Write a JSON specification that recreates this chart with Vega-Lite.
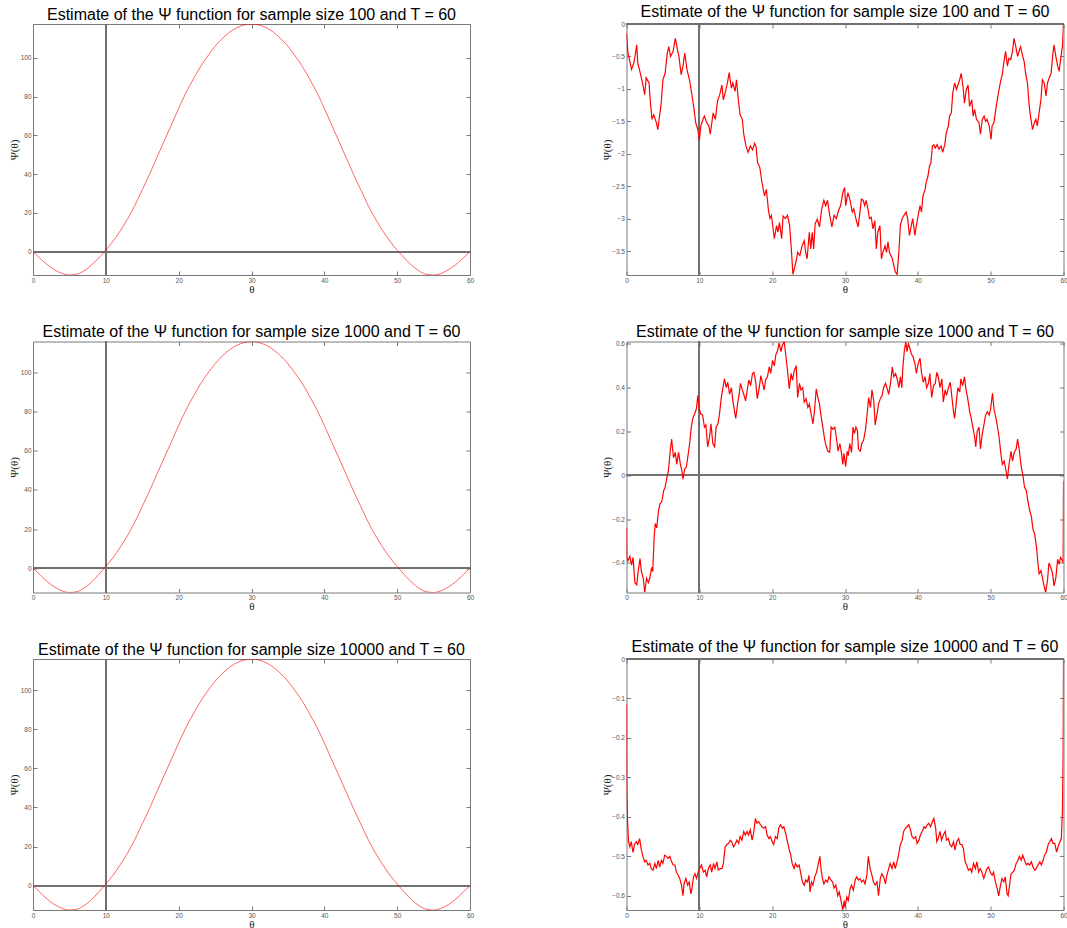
{
"$schema": "https://vega.github.io/schema/vega-lite/v6.json",
"padding": {"left": 7, "top": 3, "right": 0, "bottom": 0},
"background": "white",
"bounds": "flush",
"columns": 2,
"spacing": {"row": 66.5, "column": 156.5},
"config": {
 "view": {"stroke": "#7a7a7a", "strokeWidth": 1},
 "axis": {"grid": false, "domain": false, "tickColor": "#7a7a7a", "tickSize": -4, "labelFont": "Liberation Sans", "labelFontSize": 6.5, "labelColor": "#555555", "labelPadding": 6, "labelFlush": false, "labelOverlap": false, "labelBound": false, "titleFont": "Liberation Serif", "titleFontSize": 11, "titleFontWeight": "normal", "titleColor": "#222222", "labelExpr": "format(datum.value, '')"},
 "title": {"font": "Liberation Sans", "fontSize": 16, "fontWeight": "normal", "color": "#000000", "baseline": "alphabetic", "offset": 1, "frame": "group"}
},
"datasets": {
"l1": [
{"t":0,"v":0},{"t":1,"v":-3.5},{"t":2,"v":-6.8},{"t":3,"v":-9.4},{"t":4,"v":-11.2},{"t":5,"v":-12},{"t":6,"v":-11.6},{"t":7,"v":-9.9},{"t":8,"v":-7},{"t":9,"v":-3.3},{"t":10,"v":0.8},{"t":11,"v":5.5},{"t":12,"v":10.9},{"t":13,"v":17},{"t":14,"v":24},{"t":15,"v":32},{"t":16,"v":40},{"t":17,"v":48.5},{"t":18,"v":57},{"t":19,"v":65.5},{"t":20,"v":74},{"t":21,"v":82},{"t":22,"v":89},{"t":23,"v":95.5},{"t":24,"v":101},{"t":25,"v":106},{"t":26,"v":110},{"t":27,"v":113.3},{"t":28,"v":115.6},{"t":29,"v":117},{"t":30,"v":117.5},
{"t":31,"v":117},{"t":32,"v":115.6},{"t":33,"v":113.3},{"t":34,"v":110},{"t":35,"v":106},{"t":36,"v":101},{"t":37,"v":95.5},{"t":38,"v":89},{"t":39,"v":82},{"t":40,"v":74},{"t":41,"v":65.5},{"t":42,"v":57},{"t":43,"v":48.5},{"t":44,"v":40},{"t":45,"v":32},{"t":46,"v":24},{"t":47,"v":17},{"t":48,"v":10.9},{"t":49,"v":5.5},{"t":50,"v":0.8},{"t":51,"v":-3.3},{"t":52,"v":-7},{"t":53,"v":-9.9},{"t":54,"v":-11.6},{"t":55,"v":-12},{"t":56,"v":-11.2},{"t":57,"v":-9.4},{"t":58,"v":-6.8},{"t":59,"v":-3.5},{"t":60,"v":0}
],
"l2": [
{"t":0,"v":0},{"t":1,"v":-3.6},{"t":2,"v":-7.1},{"t":3,"v":-9.8},{"t":4,"v":-11.7},{"t":5,"v":-12.5},{"t":6,"v":-12.1},{"t":7,"v":-10.3},{"t":8,"v":-7.3},{"t":9,"v":-3.4},{"t":10,"v":0.8},{"t":11,"v":5.4},{"t":12,"v":10.8},{"t":13,"v":16.8},{"t":14,"v":23.7},{"t":15,"v":31.6},{"t":16,"v":39.5},{"t":17,"v":47.9},{"t":18,"v":56.3},{"t":19,"v":64.6},{"t":20,"v":73},{"t":21,"v":80.9},{"t":22,"v":87.8},{"t":23,"v":94.3},{"t":24,"v":99.7},{"t":25,"v":104.6},{"t":26,"v":108.6},{"t":27,"v":111.8},{"t":28,"v":114.1},{"t":29,"v":115.5},{"t":30,"v":116},
{"t":31,"v":115.5},{"t":32,"v":114.1},{"t":33,"v":111.8},{"t":34,"v":108.6},{"t":35,"v":104.6},{"t":36,"v":99.7},{"t":37,"v":94.3},{"t":38,"v":87.8},{"t":39,"v":80.9},{"t":40,"v":73},{"t":41,"v":64.6},{"t":42,"v":56.3},{"t":43,"v":47.9},{"t":44,"v":39.5},{"t":45,"v":31.6},{"t":46,"v":23.7},{"t":47,"v":16.8},{"t":48,"v":10.8},{"t":49,"v":5.4},{"t":50,"v":0.8},{"t":51,"v":-3.4},{"t":52,"v":-7.3},{"t":53,"v":-10.3},{"t":54,"v":-12.1},{"t":55,"v":-12.5},{"t":56,"v":-11.7},{"t":57,"v":-9.8},{"t":58,"v":-7.1},{"t":59,"v":-3.6},{"t":60,"v":0}
],
"r1": [
{"t":0,"v":-0.14},{"t":0.2,"v":-0.45},{"t":0.4,"v":-0.55},{"t":0.7,"v":-0.7},{"t":1.0,"v":-0.6},{"t":1.2,"v":-0.48},{"t":1.4,"v":-0.32},{"t":1.55,"v":-0.6},{"t":1.9,"v":-0.76},{"t":2.15,"v":-0.88},{"t":2.5,"v":-1.09},{"t":2.7,"v":-0.83},{"t":3.1,"v":-0.91},{"t":3.25,"v":-1.17},{"t":3.5,"v":-1.47},{"t":3.75,"v":-1.4},{"t":4.1,"v":-1.52},{"t":4.3,"v":-1.63},{"t":4.5,"v":-1.45},{"t":4.75,"v":-1.24},{"t":5.0,"v":-0.86},{"t":5.3,"v":-0.76},{"t":5.6,"v":-0.45},{"t":5.8,"v":-0.35},{"t":6.05,"v":-0.5},{"t":6.4,"v":-0.42},{"t":6.7,"v":-0.22},{"t":7.0,"v":-0.4},{"t":7.2,"v":-0.5},{"t":7.5,"v":-0.78},{"t":7.75,"v":-0.65},{"t":8.0,"v":-0.45},{"t":8.3,"v":-0.7},{"t":8.65,"v":-0.86},{"t":9.0,"v":-1.11},{"t":9.25,"v":-1.29},{"t":9.5,"v":-1.52},{"t":9.8,"v":-1.63},{"t":10.0,"v":-1.8},{"t":10.2,"v":-1.57},{"t":10.5,"v":-1.47},{"t":10.7,"v":-1.42},{"t":11.0,"v":-1.52},{"t":11.3,"v":-1.57},{"t":11.5,"v":-1.7},{"t":11.9,"v":-1.37},{"t":12.2,"v":-1.47},{"t":12.5,"v":-1.19},{"t":12.8,"v":-1.09},{"t":13.1,"v":-0.94},{"t":13.3,"v":-1.17},{"t":13.6,"v":-1.04},{"t":13.9,"v":-0.88},{"t":14.1,"v":-0.75},{"t":14.4,"v":-0.99},{"t":14.6,"v":-0.91},{"t":14.9,"v":-1.04},{"t":15.1,"v":-0.86},{"t":15.4,"v":-1.22},{"t":15.6,"v":-1.4},{"t":15.9,"v":-1.47},{"t":16.1,"v":-1.7},{"t":16.4,"v":-1.88},{"t":16.7,"v":-1.98},{"t":17.0,"v":-1.88},{"t":17.3,"v":-1.94},{"t":17.6,"v":-1.84},{"t":17.8,"v":-1.9},{"t":18.0,"v":-2.14},{"t":18.3,"v":-2.21},{"t":18.6,"v":-2.44},{"t":18.95,"v":-2.65},{"t":19.2,"v":-2.55},{"t":19.5,"v":-2.88},{"t":19.7,"v":-3.0},{"t":19.9,"v":-2.95},{"t":20.1,"v":-3.13},{"t":20.3,"v":-3.31},{"t":20.6,"v":-3.11},{"t":20.8,"v":-3.21},{"t":21.0,"v":-3.06},{"t":21.3,"v":-3.31},{"t":21.5,"v":-2.96},{"t":21.8,"v":-3.0},{"t":22.1,"v":-2.95},{"t":22.4,"v":-3.11},{"t":22.6,"v":-3.42},{"t":22.85,"v":-3.86},{"t":23.1,"v":-3.75},{"t":23.3,"v":-3.65},{"t":23.5,"v":-3.52},{"t":23.8,"v":-3.57},{"t":24.1,"v":-3.42},{"t":24.4,"v":-3.34},{"t":24.6,"v":-3.52},{"t":24.8,"v":-3.62},{"t":25.1,"v":-3.21},{"t":25.3,"v":-3.47},{"t":25.5,"v":-3.21},{"t":25.7,"v":-3.47},{"t":25.9,"v":-3.08},{"t":26.2,"v":-3.01},{"t":26.5,"v":-3.13},{"t":26.8,"v":-2.85},{"t":27.1,"v":-2.72},{"t":27.35,"v":-2.8},{"t":27.6,"v":-2.72},{"t":27.9,"v":-2.95},{"t":28.2,"v":-3.13},{"t":28.5,"v":-2.95},{"t":28.8,"v":-3.0},{"t":29.1,"v":-2.88},{"t":29.4,"v":-2.8},{"t":29.7,"v":-2.6},{"t":29.95,"v":-2.52},
{"t":30.1,"v":-2.8},{"t":30.4,"v":-2.6},{"t":30.7,"v":-2.72},{"t":31.0,"v":-2.9},{"t":31.2,"v":-2.85},{"t":31.5,"v":-3.0},{"t":31.8,"v":-3.13},{"t":32.0,"v":-2.95},{"t":32.25,"v":-2.7},{"t":32.5,"v":-2.72},{"t":32.7,"v":-2.8},{"t":32.9,"v":-2.72},{"t":33.2,"v":-2.88},{"t":33.35,"v":-3.0},{"t":33.6,"v":-2.98},{"t":33.85,"v":-3.16},{"t":34.1,"v":-3.03},{"t":34.3,"v":-3.47},{"t":34.5,"v":-3.21},{"t":34.8,"v":-3.11},{"t":35.0,"v":-3.62},{"t":35.2,"v":-3.52},{"t":35.5,"v":-3.42},{"t":35.7,"v":-3.52},{"t":35.9,"v":-3.36},{"t":36.1,"v":-3.52},{"t":36.5,"v":-3.62},{"t":36.7,"v":-3.72},{"t":36.9,"v":-3.82},{"t":37.15,"v":-3.86},{"t":37.4,"v":-3.52},{"t":37.6,"v":-3.11},{"t":37.85,"v":-3.0},{"t":38.1,"v":-2.95},{"t":38.4,"v":-2.9},{"t":38.6,"v":-3.0},{"t":38.85,"v":-3.26},{"t":39.1,"v":-3.11},{"t":39.3,"v":-3.0},{"t":39.6,"v":-3.26},{"t":39.8,"v":-3.11},{"t":40.05,"v":-2.95},{"t":40.3,"v":-2.8},{"t":40.5,"v":-2.9},{"t":40.7,"v":-2.65},{"t":41.0,"v":-2.55},{"t":41.15,"v":-2.44},{"t":41.4,"v":-2.34},{"t":41.6,"v":-2.19},{"t":41.8,"v":-2.14},{"t":42.0,"v":-1.88},{"t":42.2,"v":-1.86},{"t":42.4,"v":-1.91},{"t":42.65,"v":-1.86},{"t":42.9,"v":-1.93},{"t":43.2,"v":-1.88},{"t":43.4,"v":-1.98},{"t":43.7,"v":-1.86},{"t":43.9,"v":-1.68},{"t":44.2,"v":-1.57},{"t":44.35,"v":-1.42},{"t":44.6,"v":-1.37},{"t":44.8,"v":-1.06},{"t":45.05,"v":-0.91},{"t":45.3,"v":-1.01},{"t":45.5,"v":-0.94},{"t":45.7,"v":-0.88},{"t":45.95,"v":-0.76},{"t":46.2,"v":-0.96},{"t":46.4,"v":-1.22},{"t":46.65,"v":-1.01},{"t":46.9,"v":-0.94},{"t":47.1,"v":-1.27},{"t":47.4,"v":-1.17},{"t":47.6,"v":-1.42},{"t":47.8,"v":-1.32},{"t":48.05,"v":-1.47},{"t":48.4,"v":-1.52},{"t":48.6,"v":-1.7},{"t":48.85,"v":-1.47},{"t":49.1,"v":-1.42},{"t":49.3,"v":-1.5},{"t":49.5,"v":-1.47},{"t":49.8,"v":-1.57},{"t":50.05,"v":-1.78},{"t":50.2,"v":-1.57},{"t":50.45,"v":-1.52},{"t":50.7,"v":-1.32},{"t":50.9,"v":-1.17},{"t":51.15,"v":-1.01},{"t":51.4,"v":-0.86},{"t":51.6,"v":-0.78},{"t":51.8,"v":-0.6},{"t":52.05,"v":-0.42},{"t":52.3,"v":-0.65},{"t":52.5,"v":-0.53},{"t":52.75,"v":-0.55},{"t":53.0,"v":-0.42},{"t":53.2,"v":-0.22},{"t":53.45,"v":-0.35},{"t":53.7,"v":-0.5},{"t":53.9,"v":-0.42},{"t":54.1,"v":-0.35},{"t":54.4,"v":-0.5},{"t":54.6,"v":-0.58},{"t":54.8,"v":-0.76},{"t":55.05,"v":-0.91},{"t":55.3,"v":-1.27},{"t":55.5,"v":-1.45},{"t":55.75,"v":-1.63},{"t":56.0,"v":-1.52},{"t":56.2,"v":-1.47},{"t":56.4,"v":-1.57},{"t":56.65,"v":-1.37},{"t":56.9,"v":-1.17},{"t":57.1,"v":-0.86},{"t":57.35,"v":-0.91},{"t":57.6,"v":-1.11},{"t":57.8,"v":-0.91},{"t":58.05,"v":-0.83},{"t":58.3,"v":-0.76},{"t":58.5,"v":-0.5},{"t":58.7,"v":-0.32},{"t":58.95,"v":-0.5},{"t":59.2,"v":-0.65},{"t":59.4,"v":-0.73},{"t":59.6,"v":-0.55},{"t":59.85,"v":-0.35},{"t":60,"v":0}
],
"r2": [
{"t":0,"v":-0.24},{"t":0.05,"v":-0.375},{"t":0.2,"v":-0.39},{"t":0.46,"v":-0.37},{"t":0.7,"v":-0.41},{"t":0.9,"v":-0.375},{"t":1.15,"v":-0.49},{"t":1.4,"v":-0.5},{"t":1.6,"v":-0.44},{"t":1.85,"v":-0.38},{"t":2.05,"v":-0.44},{"t":2.3,"v":-0.47},{"t":2.5,"v":-0.535},{"t":2.75,"v":-0.47},{"t":3.0,"v":-0.49},{"t":3.2,"v":-0.47},{"t":3.45,"v":-0.42},{"t":3.6,"v":-0.44},{"t":3.8,"v":-0.28},{"t":3.95,"v":-0.22},{"t":4.15,"v":-0.24},{"t":4.4,"v":-0.16},{"t":4.6,"v":-0.13},{"t":4.85,"v":-0.12},{"t":5.1,"v":-0.07},{"t":5.3,"v":-0.055},{"t":5.55,"v":-0.01},{"t":5.75,"v":0.02},{"t":6.0,"v":0.11},{"t":6.2,"v":0.165},{"t":6.45,"v":0.08},{"t":6.7,"v":0.105},{"t":6.9,"v":0.05},{"t":7.15,"v":0.105},{"t":7.4,"v":0.05},{"t":7.6,"v":0.02},{"t":7.75,"v":-0.017},{"t":8.0,"v":0.03},{"t":8.2,"v":0.037},{"t":8.4,"v":0.08},{"t":8.65,"v":0.14},{"t":8.9,"v":0.22},{"t":9.1,"v":0.26},{"t":9.35,"v":0.28},{"t":9.6,"v":0.305},{"t":9.8,"v":0.365},{"t":9.95,"v":0.31},{"t":10.2,"v":0.28},{"t":10.45,"v":0.275},{"t":10.7,"v":0.22},{"t":10.9,"v":0.23},{"t":11.15,"v":0.13},{"t":11.4,"v":0.175},{"t":11.6,"v":0.235},{"t":11.85,"v":0.145},{"t":12.1,"v":0.13},{"t":12.3,"v":0.22},{"t":12.55,"v":0.235},{"t":12.75,"v":0.275},{"t":13.0,"v":0.35},{"t":13.2,"v":0.39},{"t":13.45,"v":0.44},{"t":13.7,"v":0.4},{"t":13.9,"v":0.425},{"t":14.15,"v":0.37},{"t":14.4,"v":0.4},{"t":14.6,"v":0.34},{"t":14.85,"v":0.29},{"t":15.0,"v":0.26},{"t":15.25,"v":0.325},{"t":15.5,"v":0.38},{"t":15.65,"v":0.42},{"t":15.9,"v":0.39},{"t":16.1,"v":0.37},{"t":16.35,"v":0.34},{"t":16.6,"v":0.395},{"t":16.8,"v":0.435},{"t":17.05,"v":0.41},{"t":17.3,"v":0.465},{"t":17.5,"v":0.47},{"t":17.75,"v":0.425},{"t":17.95,"v":0.35},{"t":18.2,"v":0.395},{"t":18.45,"v":0.455},{"t":18.65,"v":0.425},{"t":18.9,"v":0.39},{"t":19.1,"v":0.435},{"t":19.35,"v":0.45},{"t":19.6,"v":0.495},{"t":19.8,"v":0.465},{"t":20.05,"v":0.525},{"t":20.3,"v":0.5},{"t":20.5,"v":0.55},{"t":20.75,"v":0.57},{"t":20.95,"v":0.605},{"t":21.2,"v":0.565},{"t":21.4,"v":0.595},{"t":21.65,"v":0.61},{"t":21.9,"v":0.54},{"t":22.1,"v":0.48},{"t":22.35,"v":0.395},{"t":22.6,"v":0.465},{"t":22.8,"v":0.435},{"t":23.05,"v":0.48},{"t":23.3,"v":0.5},{"t":23.5,"v":0.355},{"t":23.75,"v":0.42},{"t":23.95,"v":0.39},{"t":24.2,"v":0.4},{"t":24.4,"v":0.335},{"t":24.65,"v":0.35},{"t":24.9,"v":0.31},{"t":25.1,"v":0.325},{"t":25.35,"v":0.28},{"t":25.6,"v":0.235},{"t":25.8,"v":0.29},{"t":26.05,"v":0.395},{"t":26.3,"v":0.35},{"t":26.5,"v":0.325},{"t":26.7,"v":0.275},{"t":26.95,"v":0.22},{"t":27.2,"v":0.165},{"t":27.4,"v":0.135},{"t":27.65,"v":0.11},{"t":27.9,"v":0.105},{"t":28.1,"v":0.22},{"t":28.35,"v":0.21},{"t":28.6,"v":0.22},{"t":28.8,"v":0.175},{"t":29.05,"v":0.11},{"t":29.3,"v":0.145},{"t":29.5,"v":0.105},{"t":29.7,"v":0.05},{"t":29.85,"v":0.1},{"t":30.1,"v":0.04},
{"t":30.3,"v":0.11},{"t":30.45,"v":0.09},{"t":30.65,"v":0.145},{"t":30.9,"v":0.105},{"t":31.1,"v":0.22},{"t":31.3,"v":0.19},{"t":31.5,"v":0.22},{"t":31.7,"v":0.205},{"t":31.85,"v":0.12},{"t":32.1,"v":0.11},{"t":32.3,"v":0.145},{"t":32.55,"v":0.16},{"t":32.8,"v":0.205},{"t":33.0,"v":0.265},{"t":33.25,"v":0.355},{"t":33.5,"v":0.31},{"t":33.7,"v":0.39},{"t":33.95,"v":0.34},{"t":34.15,"v":0.23},{"t":34.4,"v":0.28},{"t":34.6,"v":0.325},{"t":34.85,"v":0.35},{"t":35.1,"v":0.365},{"t":35.3,"v":0.4},{"t":35.55,"v":0.42},{"t":35.8,"v":0.395},{"t":36.0,"v":0.37},{"t":36.25,"v":0.42},{"t":36.5,"v":0.495},{"t":36.7,"v":0.45},{"t":36.95,"v":0.465},{"t":37.2,"v":0.435},{"t":37.4,"v":0.4},{"t":37.6,"v":0.45},{"t":37.8,"v":0.4},{"t":37.95,"v":0.495},{"t":38.15,"v":0.57},{"t":38.35,"v":0.61},{"t":38.5,"v":0.565},{"t":38.7,"v":0.6},{"t":38.9,"v":0.58},{"t":39.1,"v":0.555},{"t":39.35,"v":0.54},{"t":39.6,"v":0.51},{"t":39.8,"v":0.465},{"t":40.05,"v":0.51},{"t":40.3,"v":0.535},{"t":40.5,"v":0.47},{"t":40.75,"v":0.425},{"t":41.0,"v":0.45},{"t":41.2,"v":0.4},{"t":41.45,"v":0.42},{"t":41.65,"v":0.465},{"t":41.9,"v":0.355},{"t":42.15,"v":0.41},{"t":42.4,"v":0.42},{"t":42.6,"v":0.47},{"t":42.8,"v":0.45},{"t":43.05,"v":0.4},{"t":43.3,"v":0.44},{"t":43.5,"v":0.335},{"t":43.75,"v":0.39},{"t":43.95,"v":0.365},{"t":44.2,"v":0.4},{"t":44.45,"v":0.425},{"t":44.65,"v":0.365},{"t":44.9,"v":0.29},{"t":45.05,"v":0.26},{"t":45.3,"v":0.34},{"t":45.5,"v":0.4},{"t":45.75,"v":0.38},{"t":45.9,"v":0.44},{"t":46.15,"v":0.41},{"t":46.4,"v":0.45},{"t":46.6,"v":0.395},{"t":46.85,"v":0.35},{"t":47.1,"v":0.295},{"t":47.3,"v":0.265},{"t":47.55,"v":0.22},{"t":47.8,"v":0.175},{"t":47.95,"v":0.13},{"t":48.15,"v":0.2},{"t":48.4,"v":0.22},{"t":48.6,"v":0.12},{"t":48.85,"v":0.19},{"t":49.1,"v":0.235},{"t":49.3,"v":0.275},{"t":49.55,"v":0.29},{"t":49.8,"v":0.275},{"t":50.0,"v":0.305},{"t":50.25,"v":0.375},{"t":50.45,"v":0.305},{"t":50.7,"v":0.265},{"t":50.9,"v":0.23},{"t":51.15,"v":0.175},{"t":51.4,"v":0.1},{"t":51.6,"v":0.05},{"t":51.85,"v":0.065},{"t":52.05,"v":0.03},{"t":52.3,"v":-0.017},{"t":52.5,"v":0.045},{"t":52.8,"v":0.11},{"t":53.0,"v":0.065},{"t":53.25,"v":0.105},{"t":53.5,"v":0.12},{"t":53.7,"v":0.165},{"t":53.95,"v":0.11},{"t":54.2,"v":0.037},{"t":54.4,"v":0.006},{"t":54.65,"v":-0.055},{"t":54.9,"v":-0.07},{"t":55.1,"v":-0.116},{"t":55.35,"v":-0.16},{"t":55.6,"v":-0.19},{"t":55.8,"v":-0.245},{"t":56.05,"v":-0.27},{"t":56.3,"v":-0.33},{"t":56.5,"v":-0.405},{"t":56.65,"v":-0.45},{"t":56.9,"v":-0.435},{"t":57.1,"v":-0.467},{"t":57.3,"v":-0.5},{"t":57.55,"v":-0.535},{"t":57.8,"v":-0.48},{"t":58.0,"v":-0.4},{"t":58.25,"v":-0.42},{"t":58.5,"v":-0.45},{"t":58.7,"v":-0.505},{"t":58.95,"v":-0.467},{"t":59.2,"v":-0.383},{"t":59.4,"v":-0.406},{"t":59.6,"v":-0.375},{"t":59.85,"v":-0.39},{"t":59.95,"v":-0.4},{"t":60,"v":-0.025}
],
"r3": [
{"t":0,"v":-0.115},{"t":0.05,"v":-0.33},{"t":0.14,"v":-0.41},{"t":0.28,"v":-0.463},{"t":0.46,"v":-0.476},{"t":0.65,"v":-0.463},{"t":0.9,"v":-0.49},{"t":1.1,"v":-0.47},{"t":1.35,"v":-0.463},{"t":1.55,"v":-0.47},{"t":1.8,"v":-0.455},{"t":2.0,"v":-0.48},{"t":2.25,"v":-0.5},{"t":2.5,"v":-0.514},{"t":2.7,"v":-0.51},{"t":2.95,"v":-0.522},{"t":3.2,"v":-0.518},{"t":3.4,"v":-0.531},{"t":3.65,"v":-0.535},{"t":3.9,"v":-0.518},{"t":4.1,"v":-0.531},{"t":4.35,"v":-0.51},{"t":4.55,"v":-0.527},{"t":4.8,"v":-0.51},{"t":5.0,"v":-0.518},{"t":5.25,"v":-0.497},{"t":5.5,"v":-0.5},{"t":5.7,"v":-0.505},{"t":5.95,"v":-0.5},{"t":6.2,"v":-0.514},{"t":6.4,"v":-0.522},{"t":6.65,"v":-0.522},{"t":6.85,"v":-0.54},{"t":7.1,"v":-0.548},{"t":7.3,"v":-0.556},{"t":7.55,"v":-0.573},{"t":7.75,"v":-0.6},{"t":7.9,"v":-0.57},{"t":8.15,"v":-0.556},{"t":8.4,"v":-0.573},{"t":8.6,"v":-0.565},{"t":8.85,"v":-0.595},{"t":9.0,"v":-0.58},{"t":9.2,"v":-0.552},{"t":9.4,"v":-0.544},{"t":9.6,"v":-0.556},{"t":9.85,"v":-0.54},{"t":10.05,"v":-0.531},{"t":10.3,"v":-0.522},{"t":10.55,"v":-0.54},{"t":10.8,"v":-0.535},{"t":11.0,"v":-0.552},{"t":11.25,"v":-0.531},{"t":11.5,"v":-0.522},{"t":11.7,"v":-0.54},{"t":11.95,"v":-0.518},{"t":12.15,"v":-0.531},{"t":12.4,"v":-0.514},{"t":12.6,"v":-0.535},{"t":12.85,"v":-0.531},{"t":13.1,"v":-0.531},{"t":13.3,"v":-0.518},{"t":13.55,"v":-0.476},{"t":13.8,"v":-0.47},{"t":14.0,"v":-0.467},{"t":14.25,"v":-0.459},{"t":14.45,"v":-0.463},{"t":14.7,"v":-0.476},{"t":14.9,"v":-0.47},{"t":15.15,"v":-0.459},{"t":15.4,"v":-0.467},{"t":15.6,"v":-0.45},{"t":15.85,"v":-0.459},{"t":16.1,"v":-0.437},{"t":16.3,"v":-0.446},{"t":16.55,"v":-0.437},{"t":16.75,"v":-0.446},{"t":17.0,"v":-0.433},{"t":17.25,"v":-0.459},{"t":17.45,"v":-0.442},{"t":17.7,"v":-0.404},{"t":17.9,"v":-0.416},{"t":18.15,"v":-0.412},{"t":18.4,"v":-0.42},{"t":18.6,"v":-0.425},{"t":18.85,"v":-0.429},{"t":19.1,"v":-0.425},{"t":19.3,"v":-0.446},{"t":19.55,"v":-0.455},{"t":19.75,"v":-0.45},{"t":20.0,"v":-0.463},{"t":20.2,"v":-0.47},{"t":20.45,"v":-0.45},{"t":20.7,"v":-0.455},{"t":20.9,"v":-0.429},{"t":21.15,"v":-0.42},{"t":21.4,"v":-0.429},{"t":21.6,"v":-0.425},{"t":21.85,"v":-0.442},{"t":22.05,"v":-0.459},{"t":22.3,"v":-0.48},{"t":22.55,"v":-0.497},{"t":22.75,"v":-0.518},{"t":23.0,"v":-0.531},{"t":23.2,"v":-0.518},{"t":23.45,"v":-0.527},{"t":23.7,"v":-0.522},{"t":23.9,"v":-0.54},{"t":24.15,"v":-0.565},{"t":24.4,"v":-0.573},{"t":24.6,"v":-0.56},{"t":24.85,"v":-0.565},{"t":25.05,"v":-0.548},{"t":25.2,"v":-0.59},{"t":25.4,"v":-0.565},{"t":25.6,"v":-0.573},{"t":25.85,"v":-0.552},{"t":26.1,"v":-0.54},{"t":26.3,"v":-0.522},{"t":26.55,"v":-0.5},{"t":26.7,"v":-0.531},{"t":26.9,"v":-0.556},{"t":27.1,"v":-0.57},{"t":27.35,"v":-0.56},{"t":27.6,"v":-0.565},{"t":27.8,"v":-0.552},{"t":28.05,"v":-0.56},{"t":28.3,"v":-0.565},{"t":28.5,"v":-0.58},{"t":28.75,"v":-0.573},{"t":29.0,"v":-0.6},{"t":29.2,"v":-0.59},{"t":29.45,"v":-0.612},{"t":29.7,"v":-0.636},{"t":29.9,"v":-0.612},{"t":30.0,"v":-0.63},
{"t":30.25,"v":-0.603},{"t":30.45,"v":-0.612},{"t":30.7,"v":-0.582},{"t":30.9,"v":-0.573},{"t":31.15,"v":-0.586},{"t":31.4,"v":-0.56},{"t":31.6,"v":-0.552},{"t":31.85,"v":-0.56},{"t":32.05,"v":-0.556},{"t":32.3,"v":-0.565},{"t":32.55,"v":-0.56},{"t":32.75,"v":-0.57},{"t":33.0,"v":-0.548},{"t":33.2,"v":-0.5},{"t":33.45,"v":-0.531},{"t":33.7,"v":-0.548},{"t":33.9,"v":-0.565},{"t":34.15,"v":-0.573},{"t":34.4,"v":-0.565},{"t":34.6,"v":-0.6},{"t":34.85,"v":-0.556},{"t":35.05,"v":-0.544},{"t":35.3,"v":-0.552},{"t":35.55,"v":-0.57},{"t":35.75,"v":-0.548},{"t":36.0,"v":-0.531},{"t":36.2,"v":-0.518},{"t":36.45,"v":-0.531},{"t":36.7,"v":-0.514},{"t":36.9,"v":-0.531},{"t":37.15,"v":-0.514},{"t":37.35,"v":-0.497},{"t":37.6,"v":-0.47},{"t":37.85,"v":-0.459},{"t":38.05,"v":-0.437},{"t":38.3,"v":-0.429},{"t":38.5,"v":-0.425},{"t":38.75,"v":-0.42},{"t":39.0,"v":-0.433},{"t":39.2,"v":-0.45},{"t":39.45,"v":-0.455},{"t":39.7,"v":-0.45},{"t":39.9,"v":-0.467},{"t":40.15,"v":-0.459},{"t":40.35,"v":-0.446},{"t":40.6,"v":-0.437},{"t":40.85,"v":-0.425},{"t":41.05,"v":-0.429},{"t":41.3,"v":-0.42},{"t":41.5,"v":-0.416},{"t":41.75,"v":-0.425},{"t":42.0,"v":-0.412},{"t":42.2,"v":-0.404},{"t":42.45,"v":-0.429},{"t":42.6,"v":-0.463},{"t":42.8,"v":-0.455},{"t":43.05,"v":-0.437},{"t":43.25,"v":-0.459},{"t":43.5,"v":-0.446},{"t":43.75,"v":-0.437},{"t":43.95,"v":-0.459},{"t":44.2,"v":-0.455},{"t":44.4,"v":-0.47},{"t":44.65,"v":-0.476},{"t":44.9,"v":-0.463},{"t":45.1,"v":-0.484},{"t":45.35,"v":-0.463},{"t":45.6,"v":-0.455},{"t":45.8,"v":-0.47},{"t":46.05,"v":-0.47},{"t":46.25,"v":-0.48},{"t":46.5,"v":-0.514},{"t":46.7,"v":-0.522},{"t":46.95,"v":-0.535},{"t":47.2,"v":-0.531},{"t":47.4,"v":-0.54},{"t":47.65,"v":-0.518},{"t":47.9,"v":-0.531},{"t":48.1,"v":-0.514},{"t":48.35,"v":-0.54},{"t":48.55,"v":-0.531},{"t":48.8,"v":-0.54},{"t":49.05,"v":-0.556},{"t":49.25,"v":-0.544},{"t":49.5,"v":-0.531},{"t":49.7,"v":-0.527},{"t":49.95,"v":-0.54},{"t":50.2,"v":-0.548},{"t":50.4,"v":-0.54},{"t":50.65,"v":-0.565},{"t":50.9,"v":-0.582},{"t":51.1,"v":-0.6},{"t":51.35,"v":-0.573},{"t":51.55,"v":-0.556},{"t":51.8,"v":-0.565},{"t":52.0,"v":-0.552},{"t":52.25,"v":-0.595},{"t":52.4,"v":-0.6},{"t":52.6,"v":-0.573},{"t":52.8,"v":-0.544},{"t":53.05,"v":-0.54},{"t":53.25,"v":-0.535},{"t":53.5,"v":-0.518},{"t":53.75,"v":-0.51},{"t":53.95,"v":-0.5},{"t":54.2,"v":-0.51},{"t":54.4,"v":-0.497},{"t":54.65,"v":-0.51},{"t":54.9,"v":-0.522},{"t":55.1,"v":-0.518},{"t":55.35,"v":-0.522},{"t":55.6,"v":-0.514},{"t":55.8,"v":-0.527},{"t":56.05,"v":-0.535},{"t":56.25,"v":-0.531},{"t":56.5,"v":-0.522},{"t":56.75,"v":-0.514},{"t":56.95,"v":-0.522},{"t":57.2,"v":-0.51},{"t":57.4,"v":-0.497},{"t":57.65,"v":-0.489},{"t":57.9,"v":-0.47},{"t":58.1,"v":-0.463},{"t":58.35,"v":-0.455},{"t":58.55,"v":-0.467},{"t":58.8,"v":-0.467},{"t":59.05,"v":-0.489},{"t":59.25,"v":-0.476},{"t":59.5,"v":-0.463},{"t":59.7,"v":-0.455},{"t":59.85,"v":-0.387},{"t":59.95,"v":-0.242},{"t":60,"v":-0.004}
]
},
"concat": [
{
 "width": 437, "height": 251,
 "title": "Estimate of the Ψ function for sample size 100 and T = 60",
 "data": {"name": "l1"},
 "layer": [
  {"mark": {"type": "rule", "color": "#707070", "strokeWidth": 1}, "encoding": {"x": {"datum": 10, "type": "quantitative", "axis": null}}},
  {"mark": {"type": "rule", "color": "#707070", "strokeWidth": 1}, "encoding": {"y": {"datum": 0, "type": "quantitative", "axis": null}}},
  {"mark": {"type": "line", "color": "#ff0000", "strokeWidth": 1, "opacity": 0.6, "clip": true, "interpolate": "monotone"},
   "encoding": {
    "x": {"field": "t", "type": "quantitative", "scale": {"domain": [0, 60], "nice": false, "zero": false}, "axis": {"values": [0,10,20,30,40,50,60], "title": "θ", "titleY": 8}},
    "y": {"field": "v", "type": "quantitative", "scale": {"domain": [-12, 117.5], "nice": false, "zero": false}, "axis": {"values": [0,20,40,60,80,100], "title": "Ψ(θ)", "titleX": -14}}
   }},
  {"mark": {"type": "line", "opacity": 0},
   "encoding": {
    "x": {"field": "t", "type": "quantitative", "axis": {"orient": "top", "values": [0,10,20,30,40,50,60], "labels": false, "title": null}},
    "y": {"field": "v", "type": "quantitative", "axis": {"orient": "right", "values": [0,20,40,60,80,100], "labels": false, "title": null}}
   }}
 ],
 "resolve": {"axis": {"x": "independent", "y": "independent"}}
},
{
 "width": 437, "height": 251,
 "title": "Estimate of the Ψ function for sample size 100 and T = 60",
 "data": {"name": "r1"},
 "layer": [
  {"mark": {"type": "rule", "color": "#707070", "strokeWidth": 1}, "encoding": {"x": {"datum": 10, "type": "quantitative", "axis": null}}},
  {"mark": {"type": "rule", "color": "#707070", "strokeWidth": 1}, "encoding": {"y": {"datum": 0, "type": "quantitative", "axis": null}}},
  {"mark": {"type": "line", "color": "#ff0000", "strokeWidth": 1.2, "clip": true},
   "encoding": {
    "x": {"field": "t", "type": "quantitative", "scale": {"domain": [0, 60], "nice": false, "zero": false}, "axis": {"values": [0,10,20,30,40,50,60], "title": "θ", "titleY": 8}},
    "y": {"field": "v", "type": "quantitative", "scale": {"domain": [-3.87, 0], "nice": false, "zero": false}, "axis": {"values": [0,-0.5,-1,-1.5,-2,-2.5,-3,-3.5], "title": "Ψ(θ)", "titleX": -14}}
   }},
  {"mark": {"type": "line", "opacity": 0},
   "encoding": {
    "x": {"field": "t", "type": "quantitative", "axis": {"orient": "top", "values": [0,10,20,30,40,50,60], "labels": false, "title": null}},
    "y": {"field": "v", "type": "quantitative", "axis": {"orient": "right", "values": [0,-0.5,-1,-1.5,-2,-2.5,-3,-3.5], "labels": false, "title": null}}
   }}
 ],
 "resolve": {"axis": {"x": "independent", "y": "independent"}}
},
{
 "width": 437, "height": 251,
 "title": "Estimate of the Ψ function for sample size 1000 and T = 60",
 "data": {"name": "l2"},
 "layer": [
  {"mark": {"type": "rule", "color": "#707070", "strokeWidth": 1}, "encoding": {"x": {"datum": 10, "type": "quantitative", "axis": null}}},
  {"mark": {"type": "rule", "color": "#707070", "strokeWidth": 1}, "encoding": {"y": {"datum": 0, "type": "quantitative", "axis": null}}},
  {"mark": {"type": "line", "color": "#ff0000", "strokeWidth": 1, "opacity": 0.6, "clip": true, "interpolate": "monotone"},
   "encoding": {
    "x": {"field": "t", "type": "quantitative", "scale": {"domain": [0, 60], "nice": false, "zero": false}, "axis": {"values": [0,10,20,30,40,50,60], "title": "θ", "titleY": 8}},
    "y": {"field": "v", "type": "quantitative", "scale": {"domain": [-12.5, 116], "nice": false, "zero": false}, "axis": {"values": [0,20,40,60,80,100], "title": "Ψ(θ)", "titleX": -14}}
   }},
  {"mark": {"type": "line", "opacity": 0},
   "encoding": {
    "x": {"field": "t", "type": "quantitative", "axis": {"orient": "top", "values": [0,10,20,30,40,50,60], "labels": false, "title": null}},
    "y": {"field": "v", "type": "quantitative", "axis": {"orient": "right", "values": [0,20,40,60,80,100], "labels": false, "title": null}}
   }}
 ],
 "resolve": {"axis": {"x": "independent", "y": "independent"}}
},
{
 "width": 437, "height": 251,
 "title": "Estimate of the Ψ function for sample size 1000 and T = 60",
 "data": {"name": "r2"},
 "layer": [
  {"mark": {"type": "rule", "color": "#707070", "strokeWidth": 1}, "encoding": {"x": {"datum": 10, "type": "quantitative", "axis": null}}},
  {"mark": {"type": "rule", "color": "#707070", "strokeWidth": 1}, "encoding": {"y": {"datum": 0, "type": "quantitative", "axis": null}}},
  {"mark": {"type": "line", "color": "#ff0000", "strokeWidth": 1.2, "clip": true},
   "encoding": {
    "x": {"field": "t", "type": "quantitative", "scale": {"domain": [0, 60], "nice": false, "zero": false}, "axis": {"values": [0,10,20,30,40,50,60], "title": "θ", "titleY": 8}},
    "y": {"field": "v", "type": "quantitative", "scale": {"domain": [-0.535, 0.611], "nice": false, "zero": false}, "axis": {"values": [-0.4,-0.2,0,0.2,0.4,0.6], "title": "Ψ(θ)", "titleX": -14}}
   }},
  {"mark": {"type": "line", "opacity": 0},
   "encoding": {
    "x": {"field": "t", "type": "quantitative", "axis": {"orient": "top", "values": [0,10,20,30,40,50,60], "labels": false, "title": null}},
    "y": {"field": "v", "type": "quantitative", "axis": {"orient": "right", "values": [-0.4,-0.2,0,0.2,0.4,0.6], "labels": false, "title": null}}
   }}
 ],
 "resolve": {"axis": {"x": "independent", "y": "independent"}}
},
{
 "width": 437, "height": 251,
 "title": "Estimate of the Ψ function for sample size 10000 and T = 60",
 "data": {"name": "l2"},
 "layer": [
  {"mark": {"type": "rule", "color": "#707070", "strokeWidth": 1}, "encoding": {"x": {"datum": 10, "type": "quantitative", "axis": null}}},
  {"mark": {"type": "rule", "color": "#707070", "strokeWidth": 1}, "encoding": {"y": {"datum": 0, "type": "quantitative", "axis": null}}},
  {"mark": {"type": "line", "color": "#ff0000", "strokeWidth": 1, "opacity": 0.6, "clip": true, "interpolate": "monotone"},
   "encoding": {
    "x": {"field": "t", "type": "quantitative", "scale": {"domain": [0, 60], "nice": false, "zero": false}, "axis": {"values": [0,10,20,30,40,50,60], "title": "θ", "titleY": 8}},
    "y": {"field": "v", "type": "quantitative", "scale": {"domain": [-12.5, 116], "nice": false, "zero": false}, "axis": {"values": [0,20,40,60,80,100], "title": "Ψ(θ)", "titleX": -14}}
   }},
  {"mark": {"type": "line", "opacity": 0},
   "encoding": {
    "x": {"field": "t", "type": "quantitative", "axis": {"orient": "top", "values": [0,10,20,30,40,50,60], "labels": false, "title": null}},
    "y": {"field": "v", "type": "quantitative", "axis": {"orient": "right", "values": [0,20,40,60,80,100], "labels": false, "title": null}}
   }}
 ],
 "resolve": {"axis": {"x": "independent", "y": "independent"}}
},
{
 "width": 437, "height": 251,
 "title": "Estimate of the Ψ function for sample size 10000 and T = 60",
 "data": {"name": "r3"},
 "layer": [
  {"mark": {"type": "rule", "color": "#707070", "strokeWidth": 1}, "encoding": {"x": {"datum": 10, "type": "quantitative", "axis": null}}},
  {"mark": {"type": "rule", "color": "#707070", "strokeWidth": 1}, "encoding": {"y": {"datum": 0, "type": "quantitative", "axis": null}}},
  {"mark": {"type": "line", "color": "#ff0000", "strokeWidth": 1.2, "clip": true},
   "encoding": {
    "x": {"field": "t", "type": "quantitative", "scale": {"domain": [0, 60], "nice": false, "zero": false}, "axis": {"values": [0,10,20,30,40,50,60], "title": "θ", "titleY": 8}},
    "y": {"field": "v", "type": "quantitative", "scale": {"domain": [-0.636, 0], "nice": false, "zero": false}, "axis": {"values": [0,-0.1,-0.2,-0.3,-0.4,-0.5,-0.6], "title": "Ψ(θ)", "titleX": -14}}
   }},
  {"mark": {"type": "line", "opacity": 0},
   "encoding": {
    "x": {"field": "t", "type": "quantitative", "axis": {"orient": "top", "values": [0,10,20,30,40,50,60], "labels": false, "title": null}},
    "y": {"field": "v", "type": "quantitative", "axis": {"orient": "right", "values": [0,-0.1,-0.2,-0.3,-0.4,-0.5,-0.6], "labels": false, "title": null}}
   }}
 ],
 "resolve": {"axis": {"x": "independent", "y": "independent"}}
}
]
}
